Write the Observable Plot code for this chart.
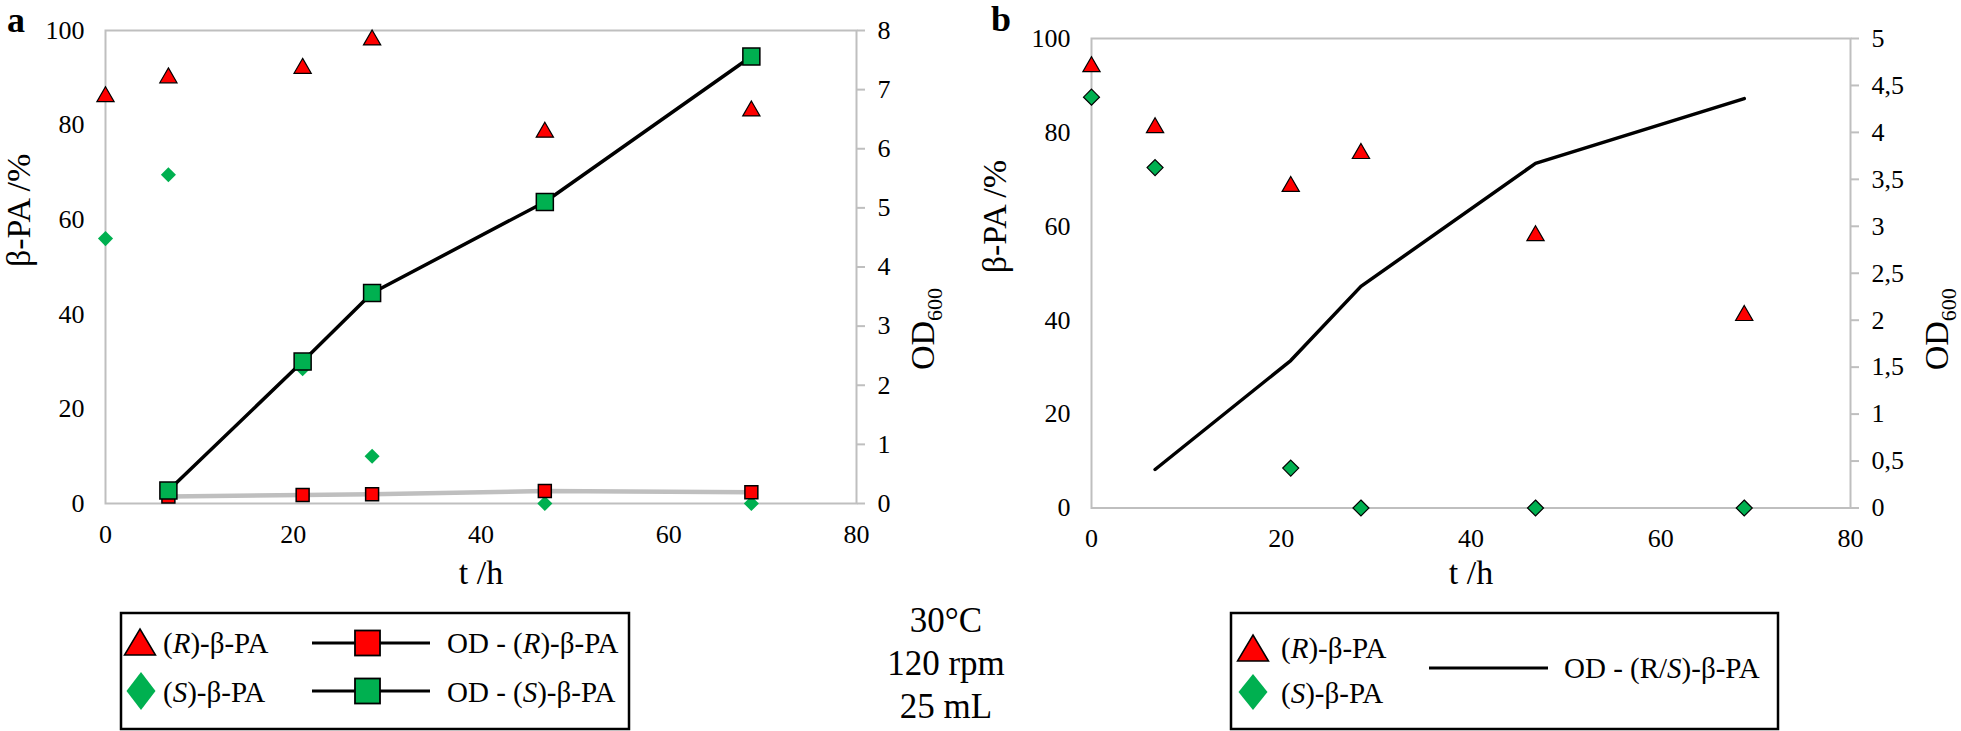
<!DOCTYPE html>
<html>
<head>
<meta charset="utf-8">
<script src="https://cdn.jsdelivr.net/npm/d3@7"></script>
<script src="https://cdn.jsdelivr.net/npm/@observablehq/plot@0.6"></script>
<style>
  html, body { margin: 0; padding: 0; background: #fff; }
  #page { position: relative; width: 1961px; height: 731px; overflow: hidden; font-family: "Liberation Serif", "DejaVu Serif", "Noto Serif", serif; }
  #page svg text { font-family: "Liberation Serif", "DejaVu Serif", "Noto Serif", serif; }
  .panel { position: absolute; top: 0; }
  .letter { position: absolute; font-weight: bold; font-size: 36px; line-height: 1; }
  #overlay { position: absolute; left: 0; top: 0; }
</style>
</head>
<body>
<div id="page">
  <div id="panelA" class="panel" style="left:0px"></div>
  <div id="panelB" class="panel" style="left:980px"></div>
  <div class="letter" style="left:7px; top:2px">a</div>
  <div class="letter" style="left:991px; top:1px">b</div>
  <svg id="overlay" width="1961" height="731"></svg>
</div>
<script>
// ---------------- data ----------------
const hours = [0, 6.7, 21, 28.4, 46.8, 68.8];
const odHours = [6.7, 21, 28.4, 46.8, 68.8];

// Panel a
const aR = [86, 90, 92, 98, 78.5, 83];          // (R)-β-PA %
const aS = [56, 69.5, 28.5, 10, 0, 0];          // (S)-β-PA %
const aOdR = [0.12, 0.145, 0.155, 0.21, 0.19];  // OD - (R)-β-PA
const aOdS = [0.22, 2.4, 3.56, 5.1, 7.56];      // OD - (S)-β-PA

// Panel b
const bR = [94, 81, 68.5, 75.5, 58, 41];
const bS = [87.5, 72.5, 8.5, 0, 0, 0];
const bOd = [0.41, 1.57, 2.36, 3.67, 4.36];     // OD - (R/S)-β-PA

const xTicks = [0, 20, 40, 60, 80];
const yTicks = [0, 20, 40, 60, 80, 100];
const odTicksA = [0, 1, 2, 3, 4, 5, 6, 7, 8];
const odTicksB = [0, 0.5, 1, 1.5, 2, 2.5, 3, 3.5, 4, 4.5, 5];

// ---------------- helpers ----------------
const FONT = '"Liberation Serif", "DejaVu Serif", "Noto Serif", serif';
const RED = "#ff0000", GREEN = "#00b050", GRAY = "#bfbfbf";
const fmtComma = d => String(+d.toFixed(2)).replace(".", ",");
const pts = (xs, ys) => xs.map((x, i) => ({x, y: ys[i]}));

function panel({width, marginLeft, marginRight, marginTop, marginBottom, odMax, odTicks, marks, yTitleDx, odDx, odDy, xTitleDy}) {
  const k = 100 / odMax; // OD -> left-axis units
  const svg = Plot.plot({
    width, height: 560,
    marginLeft, marginRight, marginTop, marginBottom,
    x: {domain: [0, 80]},
    y: {domain: [0, 100]},
    style: {fontFamily: FONT, fontSize: "26px", color: "#000", background: "transparent", overflow: "visible"},
    marks: [
      Plot.frame({stroke: GRAY, strokeWidth: 2}),
      Plot.axisX(xTicks, {tickSize: 0, tickPadding: 21, label: null}),
      Plot.axisY(yTicks, {anchor: "left", tickSize: 0, tickPadding: 21, label: null}),
      Plot.axisY(odTicks.map(v => v * k), {anchor: "right", tickSize: 8, tickPadding: 13, stroke: GRAY, strokeWidth: 2, tickFormat: d => fmtComma(d / k), label: null}),
      ...marks(k),
      Plot.text(["t /h"], {text: d => d, frameAnchor: "bottom", dy: xTitleDy, fontSize: 34}),
      Plot.text(["β-PA /%"], {text: d => d, frameAnchor: "left", dx: yTitleDx, rotate: -90, fontSize: 34}),
      Plot.text(["OD600"], {text: d => d, frameAnchor: "right", dx: odDx, dy: odDy, rotate: -90, fontSize: 34})
    ]
  });
  // subscript for OD600
  d3.select(svg).selectAll("text").filter(function() { return this.textContent === "OD600"; })
    .each(function() {
      const t = d3.select(this);
      t.text("OD");
      t.append("tspan").attr("font-size", 22).attr("dy", 8).text("600");
    });
  return svg;
}

// ---------------- panel a ----------------
const svgA = panel({
  width: 980, marginLeft: 105, marginRight: 124, marginTop: 30, marginBottom: 57,
  odMax: 8, odTicks: odTicksA, yTitleDx: -86, odDx: 67, odDy: 21, xTitleDy: 80,
  marks: k => [
    Plot.dot(pts(hours, aS), {x: "x", y: "y", symbol: "diamond2", r: 6.8, fill: GREEN, stroke: "none"}),
    Plot.dot(pts(hours, aR), {x: "x", y: "y", symbol: "triangle", r: 6.4, fill: RED, stroke: "#000", strokeWidth: 1.2}),
    Plot.line(pts(odHours, aOdR), {x: "x", y: d => d.y * k, stroke: GRAY, strokeWidth: 4.5}),
    Plot.dot(pts(odHours, aOdR), {x: "x", y: d => d.y * k, symbol: "square", r: 7.3, fill: RED, stroke: "#000", strokeWidth: 1.5}),
    Plot.line(pts(odHours, aOdS), {x: "x", y: d => d.y * k, stroke: "#000", strokeWidth: 3.5}),
    Plot.dot(pts(odHours, aOdS), {x: "x", y: d => d.y * k, symbol: "square", r: 9.6, fill: GREEN, stroke: "#000", strokeWidth: 1.5})
  ]
});
document.getElementById("panelA").appendChild(svgA);

// ---------------- panel b ----------------
const svgB = panel({
  width: 981, marginLeft: 111, marginRight: 111, marginTop: 38, marginBottom: 52.5,
  odMax: 5, odTicks: odTicksB, yTitleDx: -96, odDx: 87, odDy: 15, xTitleDy: 75.5,
  marks: k => [
    Plot.line(pts(odHours, bOd), {x: "x", y: d => d.y * k, stroke: "#000", strokeWidth: 3.5}),
    Plot.dot(pts(hours, bS), {x: "x", y: "y", symbol: "diamond2", r: 7.2, fill: GREEN, stroke: "#000", strokeWidth: 1.2}),
    Plot.dot(pts(hours, bR), {x: "x", y: "y", symbol: "triangle", r: 6.4, fill: RED, stroke: "#000", strokeWidth: 1.2})
  ]
});
document.getElementById("panelB").appendChild(svgB);

// ---------------- legends & annotation ----------------
const ov = d3.select("#overlay");
const FS = 29;
function label(g, x, y, parts) {
  const t = g.append("text").attr("x", x).attr("y", y).attr("dominant-baseline", "central")
    .attr("font-size", FS);
  parts.forEach(p => { const s = t.append("tspan").text(p[0]); if (p[1]) s.attr("font-style", "italic"); });
}
const tri = (cx, cy) => `${cx},${cy - 14} ${cx + 15.5},${cy + 12} ${cx - 15.5},${cy + 12}`;
const dia = (cx, cy, w, h) => `${cx},${cy - h / 2} ${cx + w / 2},${cy} ${cx},${cy + h / 2} ${cx - w / 2},${cy}`;

// legend a
const la = ov.append("g");
la.append("rect").attr("x", 121).attr("y", 613).attr("width", 508).attr("height", 116).attr("fill", "none").attr("stroke", "#000").attr("stroke-width", 2.5);
la.append("polygon").attr("points", tri(140, 643)).attr("fill", RED).attr("stroke", "#000").attr("stroke-width", 1.5);
label(la, 163, 643, [["("], ["R", 1], [")-β-PA"]]);
la.append("polygon").attr("points", dia(141, 691, 29, 38)).attr("fill", GREEN);
label(la, 163, 692, [["("], ["S", 1], [")-β-PA"]]);
[[643, RED], [691, GREEN]].forEach(([y, c]) => {
  la.append("line").attr("x1", 312).attr("x2", 430).attr("y1", y).attr("y2", y).attr("stroke", "#000").attr("stroke-width", 3);
  la.append("rect").attr("x", 355).attr("y", y - 12.5).attr("width", 25).attr("height", 25).attr("fill", c).attr("stroke", "#000").attr("stroke-width", 1.8);
});
label(la, 447, 643, [["OD - ("], ["R", 1], [")-β-PA"]]);
label(la, 447, 692, [["OD - ("], ["S", 1], [")-β-PA"]]);

// annotation
["30°C", "120 rpm", "25 mL"].forEach((s, i) => {
  ov.append("text").attr("x", 946).attr("y", 620 + i * 43).attr("text-anchor", "middle").attr("dominant-baseline", "central")
    .attr("font-size", 35).text(s);
});

// legend b
const lb = ov.append("g");
lb.append("rect").attr("x", 1231).attr("y", 613).attr("width", 547).attr("height", 116).attr("fill", "none").attr("stroke", "#000").attr("stroke-width", 2.5);
lb.append("polygon").attr("points", tri(1253, 649)).attr("fill", RED).attr("stroke", "#000").attr("stroke-width", 1.5);
label(lb, 1281, 648, [["("], ["R", 1], [")-β-PA"]]);
lb.append("polygon").attr("points", dia(1253, 692, 29, 36)).attr("fill", GREEN);
label(lb, 1281, 693, [["("], ["S", 1], [")-β-PA"]]);
lb.append("line").attr("x1", 1429).attr("x2", 1548).attr("y1", 668).attr("y2", 668).attr("stroke", "#000").attr("stroke-width", 3);
label(lb, 1564, 668, [["OD - (R/"], ["S", 1], [")-β-PA"]]);
</script>
</body>
</html>
